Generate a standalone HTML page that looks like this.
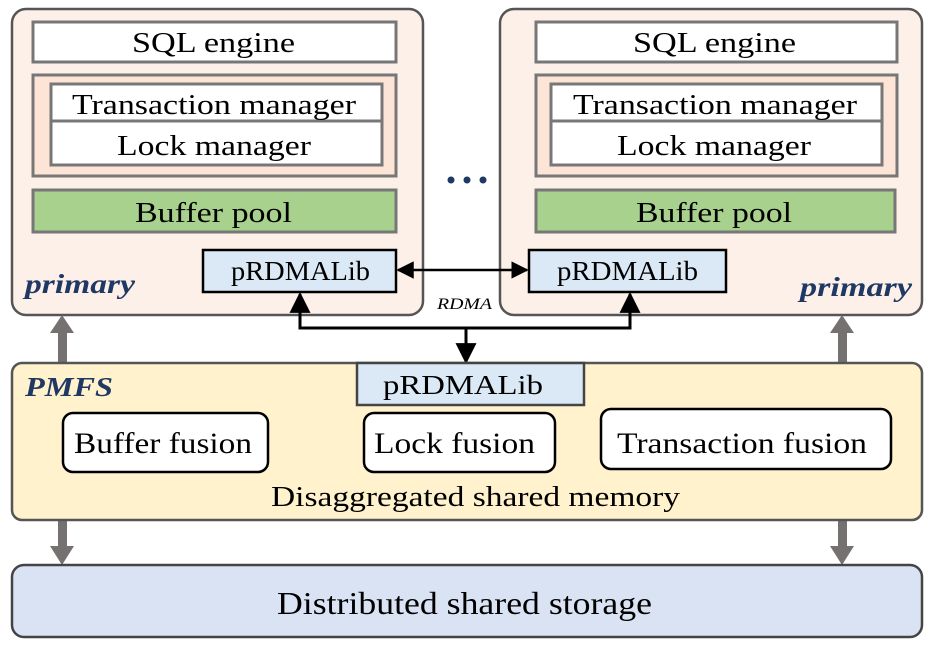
<!DOCTYPE html>
<html><head><meta charset="utf-8"><style>body{margin:0;background:#fff}svg{display:block}text{font-family:"Liberation Serif","Times New Roman",serif;}</style></head><body>
<svg width="931" height="645" viewBox="0 0 931 645" xmlns="http://www.w3.org/2000/svg">
<defs>
<marker id="a" viewBox="0 0 10 10" refX="9" refY="5" markerWidth="7" markerHeight="7" orient="auto-start-reverse"><path d="M0,0L10,5L0,10z" fill="#000"/></marker>
</defs>
<g lengthAdjust="spacingAndGlyphs">
<!-- left primary -->
<rect x="12" y="9" width="411" height="306" rx="14" fill="#fdf0e8" stroke="#555" stroke-width="2.5"/>
<rect x="33" y="22" width="363" height="40" fill="#fff" stroke="#777" stroke-width="3"/>
<text x="132" y="52" font-size="29" textLength="163" lengthAdjust="spacingAndGlyphs">SQL engine</text>
<rect x="33" y="75" width="363" height="101" fill="#fce4d6" stroke="#777" stroke-width="3"/>
<rect x="51" y="84" width="331" height="37" fill="#fff" stroke="#777" stroke-width="3"/>
<rect x="51" y="121" width="331" height="44" fill="#fff" stroke="#777" stroke-width="3"/>
<text x="72" y="114" font-size="29" textLength="284" lengthAdjust="spacingAndGlyphs">Transaction manager</text>
<text x="117" y="155" font-size="29" textLength="194" lengthAdjust="spacingAndGlyphs">Lock manager</text>
<rect x="33" y="190" width="363" height="42" fill="#a9d18e" stroke="#777" stroke-width="3"/>
<text x="135" y="222" font-size="29" textLength="157" lengthAdjust="spacingAndGlyphs">Buffer pool</text>
<rect x="203" y="250" width="193" height="42" fill="#dbe9f6" stroke="#000" stroke-width="2.5"/>
<text x="231" y="280" font-size="27" textLength="139" lengthAdjust="spacingAndGlyphs">pRDMALib</text>
<text x="25" y="293" font-size="27" font-style="italic" font-weight="bold" fill="#1f3864" textLength="110" lengthAdjust="spacingAndGlyphs">primary</text>
<!-- dots -->
<circle cx="451" cy="180" r="3.5" fill="#1f3864"/><circle cx="467" cy="180" r="3.5" fill="#1f3864"/><circle cx="483" cy="180" r="3.5" fill="#1f3864"/>
<!-- right primary -->
<rect x="500" y="9" width="422" height="306" rx="14" fill="#fdf0e8" stroke="#555" stroke-width="2.5"/>
<rect x="536" y="22" width="361" height="40" fill="#fff" stroke="#777" stroke-width="3"/>
<text x="633" y="52" font-size="29" textLength="163" lengthAdjust="spacingAndGlyphs">SQL engine</text>
<rect x="536" y="75" width="361" height="101" fill="#fce4d6" stroke="#777" stroke-width="3"/>
<rect x="551" y="84" width="331" height="37" fill="#fff" stroke="#777" stroke-width="3"/>
<rect x="551" y="121" width="331" height="44" fill="#fff" stroke="#777" stroke-width="3"/>
<text x="573" y="114" font-size="29" textLength="284" lengthAdjust="spacingAndGlyphs">Transaction manager</text>
<text x="617" y="155" font-size="29" textLength="194" lengthAdjust="spacingAndGlyphs">Lock manager</text>
<rect x="536" y="190" width="359" height="42" fill="#a9d18e" stroke="#777" stroke-width="3"/>
<text x="636" y="222" font-size="29" textLength="156" lengthAdjust="spacingAndGlyphs">Buffer pool</text>
<rect x="529" y="250" width="197" height="42" fill="#dbe9f6" stroke="#000" stroke-width="2.5"/>
<text x="557" y="280" font-size="27" textLength="141" lengthAdjust="spacingAndGlyphs">pRDMALib</text>
<text x="800" y="296" font-size="27" font-style="italic" font-weight="bold" fill="#1f3864" textLength="112" lengthAdjust="spacingAndGlyphs">primary</text>
<!-- RDMA connectors -->
<line x1="398" y1="270" x2="527" y2="270" stroke="#000" stroke-width="2.5" marker-start="url(#a)" marker-end="url(#a)"/>
<text x="437" y="309" font-size="16" font-style="italic" textLength="55" lengthAdjust="spacingAndGlyphs">RDMA</text>
<path d="M300,294 V328 H630 V294" fill="none" stroke="#000" stroke-width="3" marker-start="url(#a)" marker-end="url(#a)"/>
<line x1="466" y1="328" x2="466" y2="362" stroke="#000" stroke-width="3" marker-end="url(#a)"/>
<!-- gray arrows -->
<g fill="#767171">
<rect x="58" y="330" width="9" height="33"/><path d="M50,333L62,315L74,333z"/>
<rect x="838" y="330" width="9" height="33"/><path d="M830,333L842,315L854,333z"/>
<rect x="58" y="520" width="9" height="30"/><path d="M50,546L62,565L74,546z"/>
<rect x="838" y="520" width="9" height="30"/><path d="M830,546L842,565L854,546z"/>
</g>
<!-- PMFS -->
<rect x="12" y="363" width="910" height="157" rx="10" fill="#fff2cc" stroke="#555" stroke-width="2.5"/>
<rect x="357" y="363" width="227" height="42" fill="#dbe9f6" stroke="#444" stroke-width="2.5"/>
<text x="383" y="394" font-size="27" textLength="160" lengthAdjust="spacingAndGlyphs">pRDMALib</text>
<text x="25" y="396" font-size="27" font-style="italic" font-weight="bold" fill="#1f3864" textLength="88" lengthAdjust="spacingAndGlyphs">PMFS</text>
<rect x="63" y="413" width="205" height="59" rx="10" fill="#fff" stroke="#000" stroke-width="2.5"/>
<text x="74" y="453" font-size="30" textLength="178" lengthAdjust="spacingAndGlyphs">Buffer fusion</text>
<rect x="364" y="413" width="191" height="59" rx="10" fill="#fff" stroke="#000" stroke-width="2.5"/>
<text x="374" y="453" font-size="30" textLength="161" lengthAdjust="spacingAndGlyphs">Lock fusion</text>
<rect x="601" y="409" width="290" height="60" rx="10" fill="#fff" stroke="#000" stroke-width="2.5"/>
<text x="617" y="453" font-size="30" textLength="250" lengthAdjust="spacingAndGlyphs">Transaction fusion</text>
<text x="271" y="506" font-size="29" textLength="409" lengthAdjust="spacingAndGlyphs">Disaggregated shared memory</text>
<!-- storage -->
<rect x="12" y="565" width="910" height="72" rx="12" fill="#dae3f3" stroke="#444" stroke-width="2.5"/>
<text x="277" y="614" font-size="32" textLength="375" lengthAdjust="spacingAndGlyphs">Distributed shared storage</text>
</g>
</svg>
</body></html>
